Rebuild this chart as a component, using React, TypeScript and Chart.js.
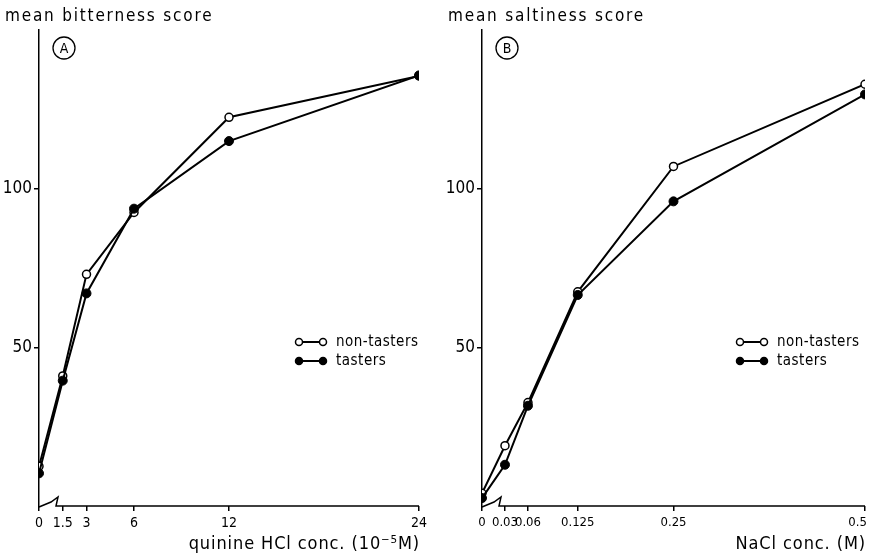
import React, { useEffect, useRef } from "react";
import { Chart, registerables } from "chart.js";

Chart.register(...registerables);

// ---- data ----
const quinineConc = [0, 1.5, 3, 6, 12, 24];
const quinineTickLabels = ["0", "1.5", "3", "6", "12", "24"];
const bitterNonTasters = [12.5, 41, 73, 92.5, 122.5, 135.5];
const bitterTasters = [10.3, 39.5, 67, 93.7, 115, 135.7];

const naclConc = [0, 0.03, 0.06, 0.125, 0.25, 0.5];
const naclTickLabels = ["0", "0.03", "0.06", "0.125", "0.25", "0.5\u2007\u2007"];
const saltNonTasters = [4, 19, 32.6, 67.5, 107, 132.9];
const saltTasters = [2.5, 13, 31.6, 66.5, 96, 129.7];

const yTicks = [50, 100];
const seriesNames = ["non-tasters", "tasters"];

const FONT = "'DejaVu Sans Condensed', 'Liberation Sans Narrow', 'DejaVu Sans', sans-serif";

type PanelOpts = {
  xs: number[];
  xLabels: string[];
  nonTasters: number[];
  tasters: number[];
  xMax: number;
  yTitle: string;
  xTitle: string;
  letter: string;
  padLeft: number;
  padRight: number;
  legendX: number;
  legendY: number;
  tickSize: number;
};

function makeDecorPlugin(p: PanelOpts) {
  return {
    id: "decor",
    afterDraw(chart: any) {
      const ctx = chart.ctx as CanvasRenderingContext2D;
      const area = chart.chartArea;
      const xs = chart.scales.x;
      const x0 = xs.getPixelForValue(0);
      const y0 = area.bottom;
      ctx.save();
      ctx.strokeStyle = "#000";
      ctx.fillStyle = "#000";
      ctx.lineWidth = 1.5;
      // axis break + x axis line
      ctx.beginPath();
      ctx.moveTo(x0, y0 + 1);
      ctx.lineTo(x0 + 12, y0 - 4);
      ctx.lineTo(x0 + 19, y0 - 9);
      ctx.lineTo(x0 + 17, y0);
      ctx.lineTo(xs.getPixelForValue(p.xMax), y0);
      ctx.stroke();

      // y title
      (ctx as any).letterSpacing = "1.8px";
      ctx.font = `17px ${FONT}`;
      ctx.textAlign = "left";
      ctx.textBaseline = "alphabetic";
      ctx.fillText(p.yTitle, area.left - 34, 21);

      // x title
      (ctx as any).letterSpacing = "0.9px";
      ctx.font = `18px ${FONT}`;
      ctx.textAlign = "right";
      ctx.textBaseline = "middle";
      ctx.fillText(p.xTitle, xs.getPixelForValue(p.xMax) + 1, 544);
      (ctx as any).letterSpacing = "0px";

      // panel letter
      const cx = area.left + 25;
      const cy = 48;
      ctx.beginPath();
      ctx.lineWidth = 1.3;
      ctx.arc(cx, cy, 11, 0, Math.PI * 2);
      ctx.stroke();
      ctx.font = `14px ${FONT}`;
      ctx.textAlign = "center";
      ctx.textBaseline = "middle";
      ctx.fillText(p.letter, cx, cy + 1);

      // legend
      const rows = [
        { name: seriesNames[0], filled: false },
        { name: seriesNames[1], filled: true },
      ];
      rows.forEach((r, i) => {
        const ly = p.legendY + i * 19;
        const lx = p.legendX;
        ctx.lineWidth = 2;
        ctx.beginPath();
        ctx.moveTo(lx, ly);
        ctx.lineTo(lx + 24, ly);
        ctx.stroke();
        [lx, lx + 24].forEach((mx) => {
          ctx.beginPath();
          ctx.arc(mx, ly, 3.5, 0, Math.PI * 2);
          ctx.fillStyle = r.filled ? "#000" : "#fff";
          ctx.fill();
          ctx.lineWidth = 1.5;
          ctx.stroke();
        });
        ctx.fillStyle = "#000";
        (ctx as any).letterSpacing = "0.5px";
        ctx.font = `15px ${FONT}`;
        ctx.textAlign = "left";
        ctx.textBaseline = "middle";
        ctx.fillText(r.name, lx + 37, ly);
        (ctx as any).letterSpacing = "0px";
      });
      ctx.restore();
    },
  };
}

function Panel(p: PanelOpts & { left: number; width: number }) {
  const ref = useRef<HTMLCanvasElement | null>(null);
  useEffect(() => {
    if (!ref.current) return;
    const chart = new Chart(ref.current, {
      type: "line",
      data: {
        datasets: [
          {
            label: seriesNames[0],
            data: p.xs.map((x, i) => ({ x, y: p.nonTasters[i] })),
            borderColor: "#000",
            borderWidth: 2,
            pointRadius: 4,
            pointBackgroundColor: "#fff",
            pointBorderColor: "#000",
            pointBorderWidth: 1.5,
            order: 1,
          },
          {
            label: seriesNames[1],
            data: p.xs.map((x, i) => ({ x, y: p.tasters[i] })),
            borderColor: "#000",
            borderWidth: 2,
            pointRadius: 4.5,
            pointBackgroundColor: "#000",
            pointBorderColor: "#000",
            pointBorderWidth: 1,
            order: 0,
          },
        ],
      },
      options: {
        animation: false,
        responsive: false,
        layout: { padding: { left: 0, right: p.padRight, top: 30, bottom: 0 } },
        plugins: { legend: { display: false }, tooltip: { enabled: false } },
        scales: {
          x: {
            type: "linear",
            min: 0,
            max: p.xMax,
            afterBuildTicks: (s: any) => {
              s.ticks = p.xs.map((v) => ({ value: v }));
            },
            afterFit: (s: any) => {
              s.height = 54;
              s.paddingLeft = 0;
              s.paddingRight = 0;
            },
            border: { display: false },
            grid: {
              drawOnChartArea: false,
              drawTicks: true,
              tickLength: 5,
              color: "#000",
              lineWidth: 1.5,
            },
            ticks: {
              color: "#000",
              padding: 4,
              maxRotation: 0,
              autoSkip: false,
              font: { family: FONT, size: p.tickSize },
              callback: (v: any) => {
                const idx = p.xs.indexOf(Number(v));
                return idx >= 0 ? p.xLabels[idx] : "";
              },
            },
          },
          y: {
            type: "linear",
            min: 0,
            max: 150,
            afterBuildTicks: (s: any) => {
              s.ticks = yTicks.map((v) => ({ value: v }));
            },
            afterFit: (s: any) => {
              s.width = p.padLeft;
            },
            border: { display: true, color: "#000", width: 1.5 },
            grid: {
              drawOnChartArea: false,
              drawTicks: true,
              tickLength: 5,
              color: "#000",
              lineWidth: 1.5,
            },
            ticks: {
              color: "#000",
              padding: 2,
              font: { family: FONT, size: 17 },
            },
          },
        },
      },
      plugins: [makeDecorPlugin(p)],
    });
    return () => chart.destroy();
  }, []);
  return (
    <canvas
      ref={ref}
      width={p.width}
      height={560}
      style={{ position: "absolute", left: p.left, top: 0, width: p.width, height: 560 }}
    />
  );
}

export default function App() {
  return (
    <div style={{ position: "fixed", left: 0, top: 0, width: 871, height: 560, background: "#fff" }}>
      <Panel
        left={0}
        width={440}
        xs={quinineConc}
        xLabels={quinineTickLabels}
        nonTasters={bitterNonTasters}
        tasters={bitterTasters}
        xMax={24}
        yTitle="mean bitterness score"
        xTitle="quinine HCl conc. (10⁻⁵M)"
        letter="A"
        padLeft={39}
        padRight={21}
        legendX={299}
        legendY={342}
        tickSize={14}
      />
      <Panel
        left={440}
        width={431}
        xs={naclConc}
        xLabels={naclTickLabels}
        nonTasters={saltNonTasters}
        tasters={saltTasters}
        xMax={0.5}
        yTitle="mean saltiness score"
        xTitle="NaCl conc. (M)"
        letter="B"
        padLeft={42}
        padRight={6}
        legendX={300}
        legendY={342}
        tickSize={13}
      />
    </div>
  );
}
